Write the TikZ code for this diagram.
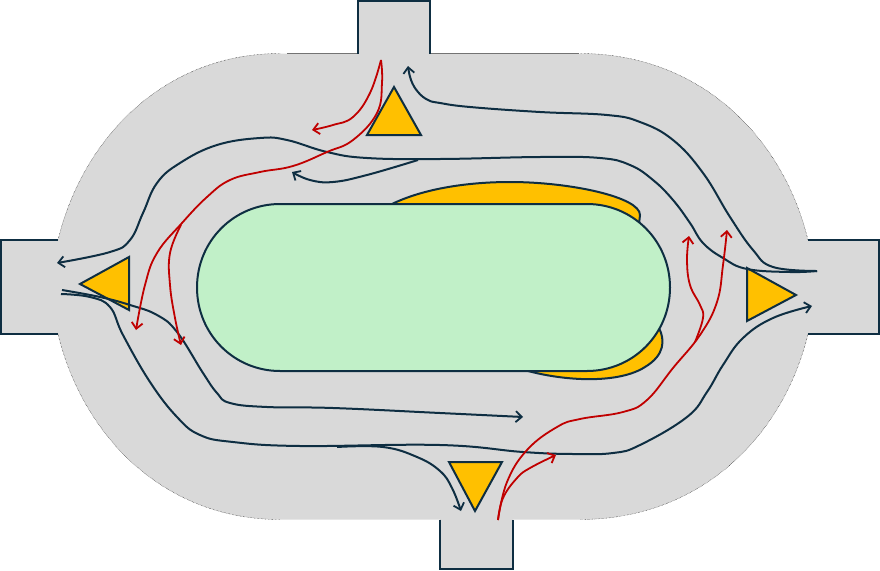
\documentclass[tikz,border=0pt]{standalone}
\usetikzlibrary{arrows.meta}
\definecolor{ink}{HTML}{0E2E42}
\definecolor{flow}{HTML}{C00000}
\definecolor{road}{HTML}{D9D9D9}
\definecolor{isle}{HTML}{C1F0C8}
\definecolor{gold}{HTML}{FFC000}
\tikzset{
  wall/.style={draw=ink,line width=2pt},
  rim/.style={draw=black,line width=0.4pt,densely dotted},
  flat/.style={draw=black!55,line width=0.7pt},
  solidshape/.style={draw=ink,line width=2pt,line join=miter},
  darkline/.style={draw=ink,line width=2pt},
  redline/.style={draw=flow,line width=1.8pt},
  tip/.style={-{Straight Barb[length=6pt,width=11pt,line width=1.8pt]}},
  curve/.style={smooth,tension=0.7}
}
\begin{document}
\begin{tikzpicture}[x=1pt,y=-1pt]
\useasboundingbox (0,0) rectangle (880,570);
% carriageway
\fill[road] (280,53.5) -- (580,53.5)
  .. controls (700,53.5) and (783,137) .. (808,240)
  -- (879,240) -- (879,334) -- (808,334)
  .. controls (783,437) and (700,519.5) .. (580,519.5)
  -- (513,519.5) -- (513,569) -- (440,569) -- (440,519.5)
  -- (280,519.5)
  .. controls (165,519.5) and (83,437) .. (58,334)
  -- (1,334) -- (1,240) -- (58,240)
  .. controls (83,137) and (165,53.5) .. (280,53.5) -- cycle;
\fill[road] (358,1) rectangle (430,54);
% rims
\draw[rim] (280,53.5) .. controls (165,53.5) and (83,137) .. (58,240);
\draw[rim] (580,53.5) .. controls (700,53.5) and (783,137) .. (808,240);
\draw[rim] (58,334) .. controls (83,437) and (165,519.5) .. (280,519.5);
\draw[rim] (808,334) .. controls (783,437) and (700,519.5) .. (580,519.5);
\draw[flat] (287,53.5) -- (358,53.5);
\draw[flat] (430,53.5) -- (579,53.5);
% arms
\draw[wall] (358,53.5) -- (358,1) -- (430,1) -- (430,53.5);
\draw[wall] (58,240) -- (1,240) -- (1,334) -- (58,334);
\draw[wall] (808,240) -- (879,240) -- (879,334) -- (808,334);
\draw[wall] (440,519.5) -- (440,569) -- (513,569) -- (513,519.5);
% yellow flares
\draw[solidshape,fill=gold] (392,204) .. controls (425,188) and (470,182) .. (510,182)
  .. controls (570,182) and (640,197) .. (640,215) -- (639,224) -- cycle;
\draw[solidshape,fill=gold] (528,371) .. controls (570,382) and (620,383) .. (645,367)
  .. controls (665,355) and (665,340) .. (659,328) -- cycle;
% island
\draw[solidshape,fill=isle] (280,204) -- (587,204)
  .. controls (633,204) and (670,241) .. (670,287.5)
  .. controls (670,334) and (633,371) .. (587,371)
  -- (280,371)
  .. controls (234,371) and (197,334) .. (197,287.5)
  .. controls (197,241) and (234,204) .. (280,204) -- cycle;
% splitter triangles
\draw[solidshape,fill=gold] (394,87) -- (367,135) -- (421,135) -- cycle;
\draw[solidshape,fill=gold] (80,284) -- (129,257) -- (129,310) -- cycle;
\draw[solidshape,fill=gold] (796,295) -- (747,268) -- (747,321) -- cycle;
\draw[solidshape,fill=gold] (449,462) -- (502,462) -- (475,511) -- cycle;
% dark flows
\draw[darkline,tip] plot[curve] coordinates {(817,271) (773,267) (753,250) (730,217) (703,173) (673,140) (640,122) (607,115) (540,112) (470,107) (440,103) (428,100) (418,92) (411,80) (408,66)};
\draw[darkline,tip] plot[curve] coordinates {(817,271) (790,272) (747,269) (723,258) (703,243) (690,223) (673,200) (653,180) (630,165) (600,158) (540,157) (440,159) (367,158) (327,152) (287,140) (260,138) (217,145) (180,163) (157,183) (143,213) (130,240) (110,252) (57,263)};
\draw[darkline,tip] plot[curve] coordinates {(418,160) (367,175) (333,182) (310,180) (292,172)};
\draw[darkline,tip] plot[curve] coordinates {(62,290) (100,297) (130,305) (157,315) (177,332) (203,373) (217,393) (230,403) (267,407) (333,408) (440,413) (523,417)};
\draw[darkline,tip] plot[curve] coordinates {(61,294) (90,297) (110,307) (123,335) (150,382) (177,417) (200,435) (233,442) (300,446) (440,445) (523,452) (573,454) (613,453) (640,445) (687,417) (707,392) (723,365) (743,338) (773,318) (812,306)};
\draw[darkline,tip] plot[curve] coordinates {(337,447) (383,447) (417,457) (440,471) (452,488) (461,511)};
% red flows
\draw[redline,tip] plot[curve] coordinates {(381,60) (370,93) (353,117) (333,125) (312,130)};
\draw[redline,tip] plot[curve] coordinates {(381,60) (382,83) (377,113) (353,140) (327,152) (293,166) (260,172) (230,180) (207,197) (182,223) (157,253) (145,285) (136,330)};
\draw[redline,tip] plot[curve] coordinates {(181,225) (170,253) (170,285) (175,318) (181,345)};
\draw[redline,tip] plot[curve] coordinates {(498,520) (507,482) (527,450) (557,427) (580,419) (623,412) (647,400) (673,368) (700,335) (717,302) (723,265) (727,230)};
\draw[redline,tip] plot[curve] coordinates {(498,520) (503,498) (517,478) (530,468) (556,455)};
\draw[redline,tip] plot[curve] coordinates {(695,342) (703,318) (700,305) (690,285) (687,260) (689,236)};
\end{tikzpicture}
\end{document}
